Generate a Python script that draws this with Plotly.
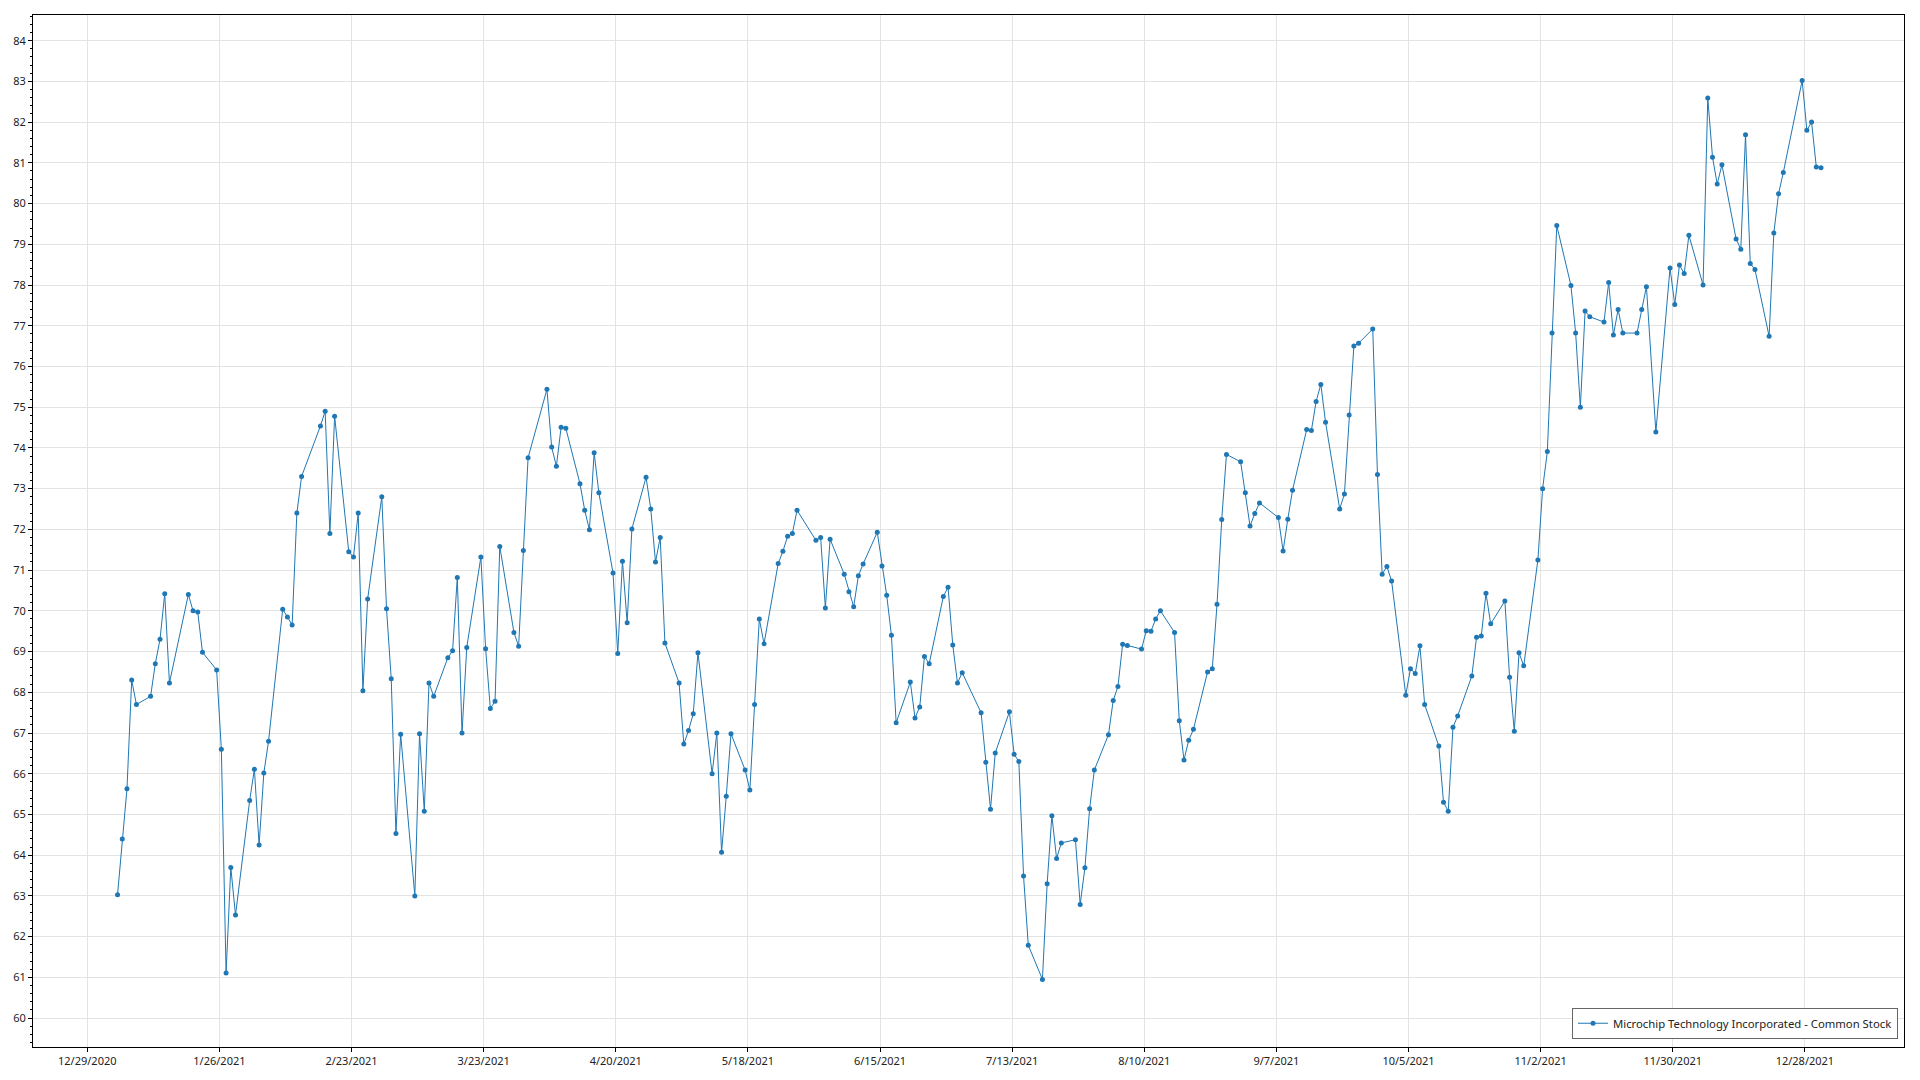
import plotly.graph_objects as go
import pandas as pd

series_name = "Microchip Technology Incorporated - Common Stock"

dates = [
    "2021-01-04","2021-01-05","2021-01-06","2021-01-07","2021-01-08","2021-01-11","2021-01-12","2021-01-13","2021-01-14","2021-01-15",
    "2021-01-19","2021-01-20","2021-01-21","2021-01-22","2021-01-25","2021-01-26","2021-01-27","2021-01-28","2021-01-29",
    "2021-02-01","2021-02-02","2021-02-03","2021-02-04","2021-02-05","2021-02-08","2021-02-09","2021-02-10","2021-02-11","2021-02-12",
    "2021-02-16","2021-02-17","2021-02-18","2021-02-19","2021-02-22","2021-02-23","2021-02-24","2021-02-25","2021-02-26",
    "2021-03-01","2021-03-02","2021-03-03","2021-03-04","2021-03-05","2021-03-08","2021-03-09","2021-03-10","2021-03-11","2021-03-12",
    "2021-03-15","2021-03-16","2021-03-17","2021-03-18","2021-03-19","2021-03-22","2021-03-23","2021-03-24","2021-03-25","2021-03-26",
    "2021-03-29","2021-03-30","2021-03-31","2021-04-01",
    "2021-04-05","2021-04-06","2021-04-07","2021-04-08","2021-04-09","2021-04-12","2021-04-13","2021-04-14","2021-04-15","2021-04-16",
    "2021-04-19","2021-04-20","2021-04-21","2021-04-22","2021-04-23","2021-04-26","2021-04-27","2021-04-28","2021-04-29","2021-04-30",
    "2021-05-03","2021-05-04","2021-05-05","2021-05-06","2021-05-07","2021-05-10","2021-05-11","2021-05-12","2021-05-13","2021-05-14",
    "2021-05-17","2021-05-18","2021-05-19","2021-05-20","2021-05-21","2021-05-24","2021-05-25","2021-05-26","2021-05-27","2021-05-28",
    "2021-06-01","2021-06-02","2021-06-03","2021-06-04","2021-06-07","2021-06-08","2021-06-09","2021-06-10","2021-06-11",
    "2021-06-14","2021-06-15","2021-06-16","2021-06-17","2021-06-18","2021-06-21","2021-06-22","2021-06-23","2021-06-24","2021-06-25",
    "2021-06-28","2021-06-29","2021-06-30","2021-07-01","2021-07-02",
    "2021-07-06","2021-07-07","2021-07-08","2021-07-09","2021-07-12","2021-07-13","2021-07-14","2021-07-15","2021-07-16",
    "2021-07-19","2021-07-20","2021-07-21","2021-07-22","2021-07-23","2021-07-26","2021-07-27","2021-07-28","2021-07-29","2021-07-30",
    "2021-08-02","2021-08-03","2021-08-04","2021-08-05","2021-08-06","2021-08-09","2021-08-10","2021-08-11","2021-08-12","2021-08-13",
    "2021-08-16","2021-08-17","2021-08-18","2021-08-19","2021-08-20","2021-08-23","2021-08-24","2021-08-25","2021-08-26","2021-08-27",
    "2021-08-30","2021-08-31","2021-09-01","2021-09-02","2021-09-03",
    "2021-09-07","2021-09-08","2021-09-09","2021-09-10","2021-09-13","2021-09-14","2021-09-15","2021-09-16","2021-09-17",
    "2021-09-20","2021-09-21","2021-09-22","2021-09-23","2021-09-24","2021-09-27","2021-09-28","2021-09-29","2021-09-30","2021-10-01",
    "2021-10-04","2021-10-05","2021-10-06","2021-10-07","2021-10-08","2021-10-11","2021-10-12","2021-10-13","2021-10-14","2021-10-15",
    "2021-10-18","2021-10-19","2021-10-20","2021-10-21","2021-10-22","2021-10-25","2021-10-26","2021-10-27","2021-10-28","2021-10-29",
    "2021-11-01","2021-11-02","2021-11-03","2021-11-04","2021-11-05","2021-11-08","2021-11-09","2021-11-10","2021-11-11","2021-11-12",
    "2021-11-15","2021-11-16","2021-11-17","2021-11-18","2021-11-19","2021-11-22","2021-11-23","2021-11-24","2021-11-26",
    "2021-11-29","2021-11-30","2021-12-01","2021-12-02","2021-12-03","2021-12-06","2021-12-07","2021-12-08","2021-12-09","2021-12-10",
    "2021-12-13","2021-12-14","2021-12-15","2021-12-16","2021-12-17","2021-12-20","2021-12-21","2021-12-22","2021-12-23",
    "2021-12-27","2021-12-28","2021-12-29","2021-12-30","2021-12-31",
]

close = [
    63.03,64.40,65.63,68.30,67.70,67.90,68.70,69.30,70.42,68.23,
    70.40,70.00,69.97,68.98,68.55,66.60,61.11,63.70,62.53,
    65.34,66.11,64.25,66.02,66.80,70.04,69.85,69.65,72.40,73.30,
    74.54,74.90,71.90,74.78,71.45,71.32,72.40,68.04,70.29,
    72.80,70.05,68.33,64.53,66.97,63.00,66.98,65.08,68.23,67.90,
    68.85,69.02,70.82,67.00,69.10,71.32,69.07,67.60,67.78,71.58,
    69.47,69.13,71.48,73.76,
    75.44,74.02,73.55,74.51,74.48,73.12,72.47,71.99,73.88,72.90,
    70.93,68.95,71.22,69.71,72.01,73.28,72.50,71.20,71.80,69.21,
    68.23,66.73,67.06,67.47,68.97,66.00,67.00,64.07,65.45,66.98,
    66.09,65.60,67.70,69.80,69.19,71.16,71.46,71.83,71.90,72.47,
    71.73,71.80,70.07,71.76,70.90,70.47,70.10,70.86,71.15,
    71.93,71.10,70.38,69.40,67.25,68.25,67.37,67.64,68.88,68.70,
    70.35,70.58,69.16,68.23,68.48,
    67.50,66.28,65.13,66.51,67.52,66.48,66.30,63.49,61.79,
    60.95,63.30,64.97,63.92,64.30,64.38,62.79,63.69,65.14,66.09,
    66.96,67.80,68.14,69.18,69.15,69.06,69.51,69.50,69.80,70.00,
    69.47,67.30,66.34,66.82,67.09,68.50,68.58,70.16,72.24,73.84,
    73.66,72.90,72.08,72.39,72.65,
    72.29,71.47,72.25,72.96,74.45,74.43,75.14,75.56,74.63,
    72.50,72.87,74.81,76.50,76.57,76.92,73.35,70.90,71.09,70.73,
    67.93,68.58,68.46,69.14,67.70,66.68,65.30,65.08,67.14,67.42,
    68.40,69.35,69.38,70.43,69.68,70.24,68.37,67.04,68.97,68.65,
    71.25,73.00,73.91,76.82,79.46,77.99,76.82,75.00,77.36,77.22,
    77.09,78.06,76.77,77.40,76.82,76.82,77.40,77.96,74.39,
    78.42,77.52,78.49,78.28,79.22,78.00,82.59,81.14,80.48,80.95,
    79.13,78.88,81.69,78.53,78.38,76.74,79.28,80.24,80.76,
    83.02,81.80,82.00,80.90,80.88,
]

x_tick_dates = ["2020-12-29","2021-01-26","2021-02-23","2021-03-23","2021-04-20","2021-05-18","2021-06-15",
                "2021-07-13","2021-08-10","2021-09-07","2021-10-05","2021-11-02","2021-11-30","2021-12-28"]
x_tick_labels = ["12/29/2020","1/26/2021","2/23/2021","3/23/2021","4/20/2021","5/18/2021","6/15/2021",
                 "7/13/2021","8/10/2021","9/7/2021","10/5/2021","11/2/2021","11/30/2021","12/28/2021"]
y_ticks = list(range(60, 85))

line_color = "#1f77b4"
font_family = "Noto Sans, Open Sans, sans-serif"

# the source chart places each daily point slightly after midnight
x_vals = pd.to_datetime(dates) + pd.Timedelta(hours=10)

fig = go.Figure()
fig.add_trace(go.Scatter(
    x=x_vals, y=close, mode="lines+markers", name=series_name,
    line=dict(color=line_color, width=1),
    marker=dict(color=line_color, size=5),
    showlegend=True,
))

fig.update_layout(
    width=1920, height=1080,
    margin=dict(l=33, r=16, t=15, b=30),
    paper_bgcolor="white", plot_bgcolor="white",
    font=dict(family=font_family, size=11, color="#222222"),
    showlegend=True,
    legend=dict(
        x=0.9968, y=0.008, xanchor="right", yanchor="bottom",
        bgcolor="white", bordercolor="#666666", borderwidth=1,
        font=dict(size=11.3, color="#222222"),
        itemwidth=30,
    ),
    xaxis=dict(
        type="date",
        range=["2020-12-17 12:00", "2022-01-18"],
        tickmode="array", tickvals=x_tick_dates, ticktext=x_tick_labels,
        showgrid=True, gridcolor="#e3e3e3", gridwidth=1,
        showline=True, linecolor="black", linewidth=1, mirror=True,
        ticks="outside", ticklen=4, tickcolor="black",
        zeroline=False,
    ),
    yaxis=dict(
        range=[59.29, 84.63],
        tickmode="array", tickvals=y_ticks, ticktext=[str(v) for v in y_ticks],
        showgrid=True, gridcolor="#e3e3e3", gridwidth=1,
        showline=True, linecolor="black", linewidth=1, mirror=True,
        ticks="outside", ticklen=4, tickcolor="black",
        minor=dict(ticks="outside", ticklen=2, tickcolor="black", dtick=0.2, showgrid=False),
        zeroline=False,
    ),
)

fig.write_html("out.html", config={"displayModeBar": False},
               post_script="document.body.style.margin='0';")
